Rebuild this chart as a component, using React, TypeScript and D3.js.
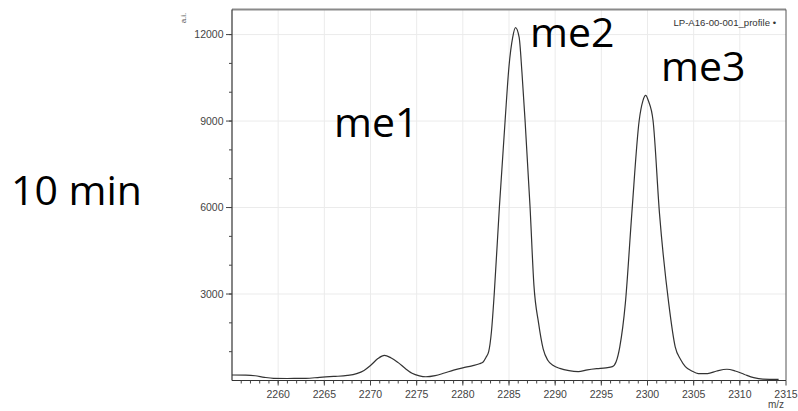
import React from "react";
import * as d3 from "d3";

const mzValues = [
  2255.0, 2256.5, 2257.5, 2258.5, 2259.5, 2261.0, 2263.0, 2264.5, 2266.0, 2267.5,
  2268.5, 2269.3, 2270.0, 2270.8, 2271.5, 2272.2, 2273.0, 2273.8, 2274.5, 2275.3,
  2276.0, 2277.0, 2278.0, 2279.0, 2280.0, 2281.0, 2281.8, 2282.2, 2282.5, 2282.8,
  2283.1, 2283.4, 2283.96, 2284.58, 2285.0, 2285.4, 2285.7, 2286.1, 2286.4, 2286.74,
  2287.28, 2287.7, 2288.2, 2288.7, 2289.2, 2289.8, 2290.5, 2291.5, 2292.5, 2293.5,
  2294.5, 2295.5, 2296.2, 2296.6, 2297.0, 2297.6, 2298.3, 2299.1, 2299.5, 2299.8,
  2300.1, 2300.6, 2301.3, 2302.3, 2303.0, 2303.6, 2304.1, 2304.8, 2305.5, 2306.5,
  2307.5, 2308.6, 2309.5, 2310.5, 2311.5, 2312.5, 2314.2,
];

const intensityValues = [
  190, 185, 165, 110, 75, 70, 75, 110, 140, 175,
  240, 350, 520, 760, 870, 790, 620, 410, 250, 160,
  130, 170, 260, 360, 440, 510, 580, 640, 800, 1000,
  1700, 3000, 6020, 9020, 10900, 11900, 12240, 11900, 10700, 9020,
  6020, 3300, 2000, 1100, 700, 520, 420, 340, 310, 370,
  410, 440, 480, 650, 1170, 2675, 5790, 9020, 9700, 9890,
  9700, 9020, 5790, 2675, 1170, 720, 480, 330, 240, 240,
  330, 390, 330, 210, 100, 50, 40,
];

const xTickLabels = [2260, 2265, 2270, 2275, 2280, 2285, 2290, 2295, 2300, 2305, 2310, 2315];
const xMinorTicks = d3.range(2256, 2315, 1);
const yTickLabels = [3000, 6000, 9000, 12000];
const yMinorTicks = d3.range(1000, 12001, 1000);

const annotations = [
  { text: "10 min", x: 142, y: 205, anchor: "end" },
  { text: "me1", x: 334, y: 137, anchor: "start" },
  { text: "me2", x: 530, y: 47, anchor: "start" },
  { text: "me3", x: 661, y: 81, anchor: "start" },
];

const legendLabel = "LP-A16-00-001_profile \u2022";

export default function App() {
  const W = 798;
  const H = 411;
  const left = 232;
  const right = 786;
  const top = 9.5;
  const bottom = 380.5;

  const x = d3.scaleLinear().domain([2255, 2315]).range([left, right]);
  const y = d3.scaleLinear().domain([0, 12870]).range([bottom, top]);

  const pts = mzValues.map((m, i) => [m, intensityValues[i]] as [number, number]);
  const line = d3
    .line<[number, number]>()
    .x((d) => x(d[0]))
    .y((d) => y(d[1]))
    .curve(d3.curveMonotoneX);

  const tickFont = "'Liberation Sans', Arial, sans-serif";

  return (
    <svg
      width={W}
      height={H}
      style={{ position: "absolute", left: 0, top: 0, background: "#fff" }}
    >
      <rect x={0} y={0} width={W} height={H} fill="#fff" />
      {/* grid */}
      {xTickLabels.slice(0, -1).map((t) => (
        <line key={"gx" + t} x1={x(t)} x2={x(t)} y1={top} y2={bottom} stroke="#ebebeb" strokeWidth={1} />
      ))}
      {yTickLabels.map((t) => (
        <line key={"gy" + t} x1={left} x2={right} y1={y(t)} y2={y(t)} stroke="#ebebeb" strokeWidth={1} />
      ))}
      {/* frame */}
      <line x1={left} x2={right} y1={top} y2={top} stroke="#8a8a8a" strokeWidth={2} />
      <line x1={right} x2={right} y1={top} y2={bottom} stroke="#555" strokeWidth={1} />
      <line x1={left} x2={left} y1={top} y2={bottom} stroke="#333" strokeWidth={1.2} />
      <line x1={left} x2={right} y1={bottom} y2={bottom} stroke="#333" strokeWidth={1.2} />
      {/* x ticks */}
      {xMinorTicks.map((t) => (
        <line key={"xm" + t} x1={x(t)} x2={x(t)} y1={bottom} y2={bottom + 3} stroke="#444" strokeWidth={1} />
      ))}
      {xTickLabels.map((t) => (
        <g key={"xt" + t}>
          <line x1={x(t)} x2={x(t)} y1={bottom} y2={bottom + 5} stroke="#444" strokeWidth={1} />
          <text x={x(t)} y={398} textAnchor="middle" fontSize={10.5} fontFamily={tickFont} fill="#444">
            {t}
          </text>
        </g>
      ))}
      {/* y ticks */}
      {yMinorTicks.map((t) => (
        <line key={"ym" + t} x1={left - 3} x2={left} y1={y(t)} y2={y(t)} stroke="#444" strokeWidth={1} />
      ))}
      {yTickLabels.map((t) => (
        <g key={"yt" + t}>
          <line x1={left - 6} x2={left} y1={y(t)} y2={y(t)} stroke="#444" strokeWidth={1} />
          <text x={223.5} y={y(t) + 3.8} textAnchor="end" fontSize={10.5} fontFamily={tickFont} fill="#444">
            {t}
          </text>
        </g>
      ))}
      {/* axis titles */}
      <text
        x={0}
        y={0}
        transform="translate(186,18) rotate(-90)"
        textAnchor="middle"
        fontSize={8}
        fontFamily={tickFont}
        fill="#555"
      >
        a.i.
      </text>
      <text x={776} y={408} textAnchor="middle" fontSize={10} fontFamily={tickFont} fill="#444">
        m/z
      </text>
      {/* legend */}
      <text x={776} y={26} textAnchor="end" fontSize={9.6} fontFamily={tickFont} fill="#333">
        {legendLabel}
      </text>
      {/* spectrum */}
      <path d={line(pts) || ""} fill="none" stroke="#333" strokeWidth={1.2} />
      {/* annotations */}
      {annotations.map((a) => (
        <text
          key={a.text}
          x={a.x}
          y={a.y}
          textAnchor={a.anchor as any}
          fontSize={41}
          fontFamily="'Open Sans', 'Noto Sans', sans-serif"
          fill="#000"
        >
          {a.text}
        </text>
      ))}
    </svg>
  );
}
